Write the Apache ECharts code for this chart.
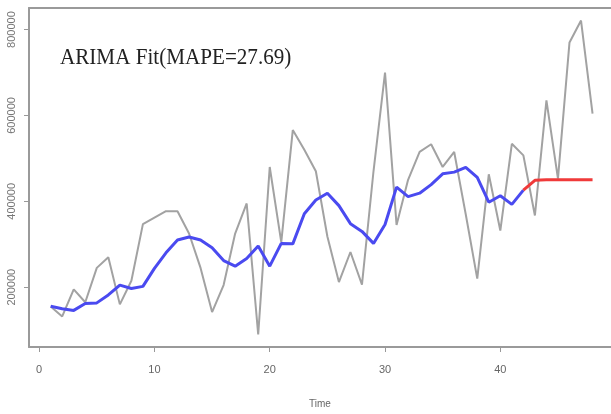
<!DOCTYPE html>
<html>
<head>
<meta charset="utf-8">
<script src="https://cdn.jsdelivr.net/npm/echarts@6/dist/echarts.min.js"></script>
<style>html,body{margin:0;padding:0;background:#fff}#c{width:611px;height:414px}</style>
</head>
<body>
<div id="c"></div>
<script>
const time = [1,2,3,4,5,6,7,8,9,10,11,12,13,14,15,16,17,18,19,20,21,22,23,24,25,26,27,28,29,30,31,32,33,34,35,36,37,38,39,40,41,42,43,44,45,46,47,48];
const actual = [155000,132000,195000,165000,245000,270000,160000,215000,347000,362000,377000,377000,325000,245000,142000,205000,325000,395000,90000,480000,305000,566000,520000,470000,318000,212000,282000,206000,470000,700000,345000,450000,515000,533000,480000,515000,370000,220000,463000,332000,534000,507000,367000,635000,453000,770000,821000,604000];
const fittedTime = time.slice(0, 42);
const fitted = [155500,150000,146000,162000,163500,182000,205000,197000,202000,244000,280000,310000,317000,310000,292000,262000,249000,267000,296000,249000,302000,301000,371000,403000,419000,390000,348000,330000,302000,346000,433000,411000,419000,439000,464000,468000,479000,456000,398000,413000,393000,426000];
const forecastTime = [42,43,44,45,46,47,48];
const forecast = [426000,449000,450000,450000,450000,450000,450000];
const xTicks = [0,10,20,30,40];
const yTicks = [200000,400000,600000,800000];
const titleText = 'ARIMA Fit(MAPE=27.69)';

const pair = (xs, ys) => xs.map((x, i) => [x, ys[i]]);
const boxLine = {show: true, onZero: false, lineStyle: {color: '#9a9a9a', width: 2}};
const chart = echarts.init(document.getElementById('c'), null, {renderer: 'canvas'});
chart.setOption({
  animation: false,
  backgroundColor: '#fff',
  grid: {left: 29, top: 8, right: 0, height: 341},
  xAxis: [{
    type: 'value', min: -0.88, max: 49.6, position: 'bottom',
    name: 'Time', nameLocation: 'middle', nameGap: 52,
    nameTextStyle: {fontSize: 10, color: '#666', fontFamily: 'Liberation Sans'},
    axisLine: boxLine,
    splitLine: {show: false},
    axisTick: {show: true, customValues: xTicks, length: 5, lineStyle: {color: '#999', width: 1}},
    axisLabel: {customValues: xTicks, margin: 17, fontSize: 11, color: '#666', fontFamily: 'Liberation Sans'}
  }, {
    type: 'value', min: -0.88, max: 49.6, position: 'top',
    axisLine: boxLine, axisTick: {show: false}, axisLabel: {show: false}, splitLine: {show: false}
  }],
  yAxis: {
    type: 'value', min: 60760, max: 850240, position: 'left',
    axisLine: boxLine,
    splitLine: {show: false},
    axisTick: {show: true, customValues: yTicks, length: 5, lineStyle: {color: '#999', width: 1}},
    axisLabel: {customValues: yTicks, rotate: 90, margin: 12, fontSize: 11, color: '#777', fontFamily: 'Liberation Sans', formatter: v => String(v)}
  },
  graphic: [{
    type: 'text', left: 60, top: 46, scaleX: 0.88,
    style: {text: titleText, font: '24px "Liberation Serif"', fill: '#222'}
  }],
  series: [
    {type: 'line', data: pair(time, actual), showSymbol: false, lineStyle: {color: '#a2a2a2', width: 2}, z: 2},
    {type: 'line', data: pair(fittedTime, fitted), showSymbol: false, lineStyle: {color: '#4a4af0', width: 3}, z: 3},
    {type: 'line', data: pair(forecastTime, forecast), showSymbol: false, lineStyle: {color: '#f03a3a', width: 3}, z: 4}
  ]
});
</script>
</body>
</html>
